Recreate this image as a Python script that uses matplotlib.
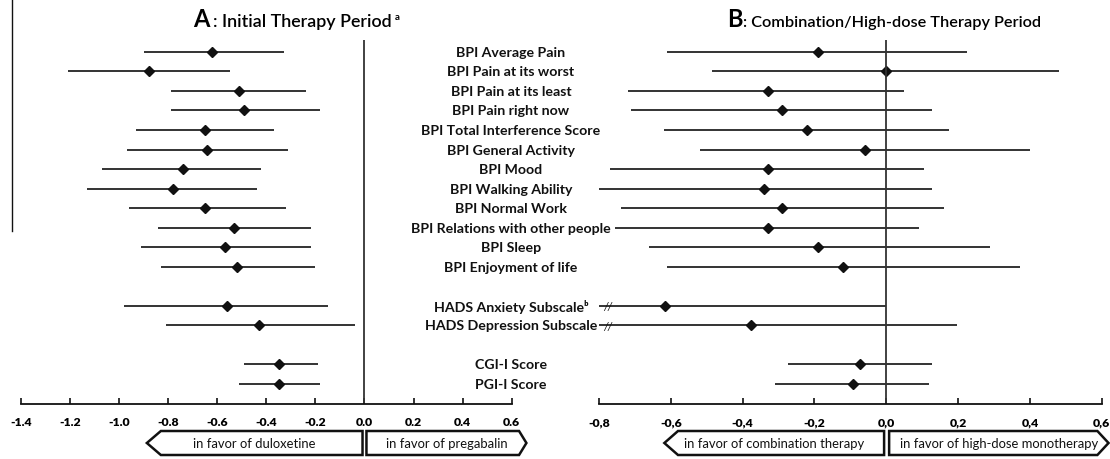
import numpy as np
import matplotlib
matplotlib.use("Agg")
import matplotlib.pyplot as plt
import matplotlib.transforms as mtransforms
from matplotlib.patches import Polygon
from matplotlib.lines import Line2D

plt.rcParams['font.family'] = ['Lato', 'DejaVu Sans']

labels = ["BPI Average Pain", "BPI Pain at its worst", "BPI Pain at its least",
          "BPI Pain right now", "BPI Total Interference Score", "BPI General Activity",
          "BPI Mood", "BPI Walking Ability", "BPI Normal Work",
          "BPI Relations with other people", "BPI Sleep", "BPI Enjoyment of life",
          "HADS Anxiety Subscale\u1d47", "HADS Depression Subscale",
          "CGI-I Score", "PGI-I Score"]
group_sizes = [12, 2, 2]

# A: initial therapy period (duloxetine vs pregabalin)
a_mean = [-0.62, -0.88, -0.51, -0.49, -0.65, -0.64, -0.74, -0.78, -0.65, -0.53, -0.57, -0.52,
          -0.56, -0.43, -0.35, -0.35]
a_low = [-0.90, -1.21, -0.79, -0.79, -0.93, -0.97, -1.07, -1.13, -0.96, -0.84, -0.91, -0.83,
         -0.98, -0.81, -0.49, -0.51]
a_high = [-0.33, -0.55, -0.24, -0.18, -0.37, -0.31, -0.42, -0.44, -0.32, -0.22, -0.22, -0.20,
          -0.15, -0.04, -0.19, -0.18]

# B: combination / high-dose therapy period
b_mean = [-0.19, 0.00, -0.33, -0.29, -0.22, -0.06, -0.33, -0.34, -0.29, -0.33, -0.19, -0.12,
          -0.615, -0.376, -0.072, -0.094]
b_low = [-0.61, -0.485, -0.72, -0.71, -0.62, -0.52, -0.77, -0.80, -0.74, -0.755, -0.66, -0.61,
         -0.95, -0.95, -0.274, -0.31]
b_high = [0.226, 0.48, 0.05, 0.128, 0.175, 0.40, 0.106, 0.128, 0.16, 0.092, 0.29, 0.373,
          0.0, 0.198, 0.128, 0.12]
b_broken = [12, 13]

a_ticks = [-1.4, -1.2, -1.0, -0.8, -0.6, -0.4, -0.2, 0.0, 0.2, 0.4, 0.6]
b_ticks = [-0.8, -0.6, -0.4, -0.2, 0.0, 0.2, 0.4, 0.6]

# row positions with a blank row between groups
pos = []
p = 0
for g in group_sizes:
    pos += list(range(p, p + g))
    p += g + 1
pos = np.array(pos)

W, H = 1110, 460
fig = plt.figure(figsize=(W / 100, H / 100), dpi=100)

def fx(px):
    return px / W

def fy(py):
    return 1 - py / H

bottom, top = fy(405), fy(41)
axL = fig.add_axes([fx(21), bottom, fx(511.7) - fx(21), top - bottom])
axR = fig.add_axes([fx(599), bottom, fx(1101.7) - fx(599), top - bottom])

ink = '#111111'
for ax, m, lo, hi, ticks, xl in [(axL, a_mean, a_low, a_high, a_ticks, (-1.4, 0.6)),
                                 (axR, b_mean, b_low, b_high, b_ticks, (-0.8, 0.6))]:
    ax.set_xlim(*xl)
    ax.set_ylim(18.05, -0.615)
    ax.hlines(pos, lo, hi, color=ink, lw=1.2)
    ax.plot(m, pos, 'D', color=ink, ms=4.8, mec=ink)
    ax.axvline(0, color='#333333', lw=1.3)
    for s in ['top', 'right', 'left']:
        ax.spines[s].set_visible(False)
    ax.spines['bottom'].set_linewidth(1.3)
    ax.spines['bottom'].set_color(ink)
    ax.set_yticks([])
    ax.set_xticks(ticks)
    ax.tick_params(axis='x', direction='in', length=4, width=1.2, color=ink, pad=9)
    ax.patch.set_alpha(0)

axL.set_xticklabels([f"{t:.1f}" for t in a_ticks], fontsize=8.8, fontweight='heavy')
axR.set_xticklabels([f"{t:.1f}".replace('.', ',') for t in b_ticks], fontsize=8.8,
                    fontweight='heavy')

# break marks on truncated intervals
for i in b_broken:
    axR.text(-0.776, pos[i], "//", ha='center', va='center', fontsize=8, color=ink,
             fontstyle='italic')

# row labels between panels
lab_tr = mtransforms.blended_transform_factory(fig.transFigure, axL.transData)
for lab, y in zip(labels, pos):
    fig.text(fx(511), y, lab, transform=lab_tr, ha='center', va='center',
             fontsize=10.2, fontweight='bold', color=ink)

# panel titles
fig.text(fx(193), fy(27), "A", fontsize=17, fontweight='bold', va='baseline', ha='left')
tA = fig.text(fx(213), fy(27), ": Initial Therapy Period", fontsize=12.9, fontweight='semibold',
              va='baseline', ha='left')
fig.text(fx(727), fy(27), "B", fontsize=17, fontweight='bold', va='baseline', ha='left')
fig.text(fx(743), fy(27), ": Combination/High-dose Therapy Period", fontsize=11.7,
         fontweight='semibold', va='baseline', ha='left')
fig.canvas.draw()
ext = tA.get_window_extent()
fig.text((ext.x1 + 3) / W, fy(20), "a", fontsize=7, fontweight='bold', va='baseline', ha='left')

# direction arrows under each axis
def arrow_box(ax, x0, x1, tip, text, pointing):
    tr = mtransforms.blended_transform_factory(ax.transData, fig.transFigure)
    yt, yb = fy(432), fy(456)
    ym = (yt + yb) / 2
    if pointing == 'left':
        verts = [(x0 - tip, ym), (x0, yt), (x1, yt), (x1, yb), (x0, yb)]
        xc = (x0 - tip + x1) / 2
    else:
        verts = [(x0, yt), (x1, yt), (x1 + tip, ym), (x1, yb), (x0, yb)]
        xc = (x0 + x1 + tip) / 2
    ax.add_patch(Polygon(verts, closed=True, transform=tr, fc='white', ec=ink, lw=1.8,
                         clip_on=False))
    ax.text(xc, ym, text, transform=tr, ha='center', va='center', fontsize=9.4, color=ink)

arrow_box(axL, -0.83, -0.008, 0.057, "in favor of duloxetine", 'left')
arrow_box(axL, 0.008, 0.63, 0.03, "in favor of pregabalin", 'right')
arrow_box(axR, -0.58, -0.006, 0.038, "in favor of combination therapy", 'left')
arrow_box(axR, 0.008, 0.588, 0.031, "in favor of high-dose monotherapy", 'right')

# stray frame line at the far left of the source figure
fig.add_artist(Line2D([fx(12), fx(12)], [fy(0), fy(232)], color=ink, lw=1.0))

fig.savefig("out.png", dpi=100)
